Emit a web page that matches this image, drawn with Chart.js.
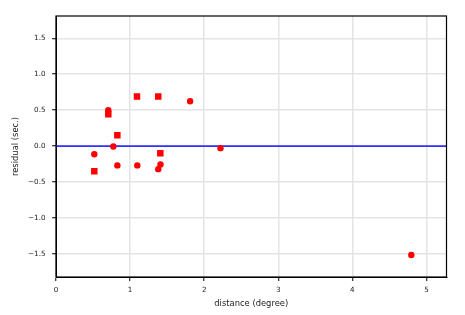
<!DOCTYPE html>
<html><head><meta charset="utf-8">
<script src="https://cdn.jsdelivr.net/npm/chart.js@4/dist/chart.umd.min.js"></script>
<style>html,body{margin:0;padding:0;background:#fff}</style>
</head><body>
<canvas id="c" width="465" height="315"></canvas>
<script>
const circleX = [0.517, 0.706, 0.774, 0.828, 1.097, 1.380, 1.410, 1.810, 2.220, 4.795];
const circleY = [-0.113, 0.500, -0.005, -0.268, -0.268, -0.320, -0.255, 0.625, -0.028, -1.515];
const squareX = [0.517, 0.706, 0.828, 1.093, 1.380, 1.408];
const squareY = [-0.350, 0.445, 0.150, 0.690, 0.690, -0.100];
const refX = [0, 5.27];
const refY = [0, 0];
const xTicks = [0, 1, 2, 3, 4, 5];
const yTicks = [-1.5, -1.0, -0.5, 0.0, 0.5, 1.0, 1.5];
const xRange = [0, 5.27];
const yRange = [-1.82, 1.81];

const pts = (xs, ys) => xs.map((x, i) => ({x, y: ys[i]}));
const FONT = {family: 'DejaVu Sans', size: 7.2};
const TFONT = {family: 'DejaVu Sans', size: 8.4};
const TXT = '#222';

const boxPlugin = {
  id: 'box',
  afterDatasetsDraw(chart) {
    const {ctx, chartArea: a} = chart;
    ctx.save();
    ctx.strokeStyle = '#000';
    ctx.lineWidth = 1.2;
    ctx.strokeRect(a.left, a.top, a.right - a.left, a.bottom - a.top);
    ctx.restore();
  }
};

new Chart(document.getElementById('c'), {
  type: 'scatter',
  data: {
    datasets: [
      {data: pts(refX, refY), type: 'line', showLine: true, borderColor: 'rgba(50,50,255,1)', borderWidth: 1.6, pointRadius: 0, order: 3},
      {data: pts(circleX, circleY), pointStyle: 'circle', pointRadius: 3.2, backgroundColor: '#ff0000', borderWidth: 0, order: 1},
      {data: pts(squareX, squareY), pointStyle: 'rect', pointRadius: 4.6, backgroundColor: '#ff0000', borderWidth: 0, order: 1}
    ]
  },
  options: {
    responsive: false,
    animation: false,
    events: [],
    layout: {padding: {left: 0, top: 16, right: 18.5, bottom: 0}},
    plugins: {legend: {display: false}, tooltip: {enabled: false}},
    scales: {
      x: {
        type: 'linear', min: xRange[0], max: xRange[1],
        afterBuildTicks: s => { s.ticks = xTicks.map(v => ({value: v})); },
        afterFit: s => { s.height = 38; },
        grid: {color: '#e4e4e4', lineWidth: 1.5, tickColor: '#000', tickLength: 4, tickWidth: 1},
        border: {display: true, color: '#000', width: 1},
        ticks: {font: FONT, color: TXT, padding: 4.5, maxRotation: 0, callback: v => String(v)},
        title: {display: true, text: 'distance (degree)', font: TFONT, color: TXT, padding: {top: 0, bottom: 6}}
      },
      y: {
        type: 'linear', min: yRange[0], max: yRange[1],
        afterBuildTicks: s => { s.ticks = yTicks.map(v => ({value: v})); },
        afterFit: s => { s.width = 56; },
        grid: {color: '#e4e4e4', lineWidth: 1.5, tickColor: '#000', tickLength: 4, tickWidth: 1},
        border: {display: true, color: '#000', width: 1},
        ticks: {font: FONT, color: TXT, padding: 6.5, callback: v => v.toFixed(1).replace('-', '\u2212')},
        title: {display: true, text: 'residual (sec.)', font: TFONT, color: TXT, padding: {top: 11, bottom: 0}}
      }
    }
  },
  plugins: [boxPlugin]
});
</script>
</body></html>
